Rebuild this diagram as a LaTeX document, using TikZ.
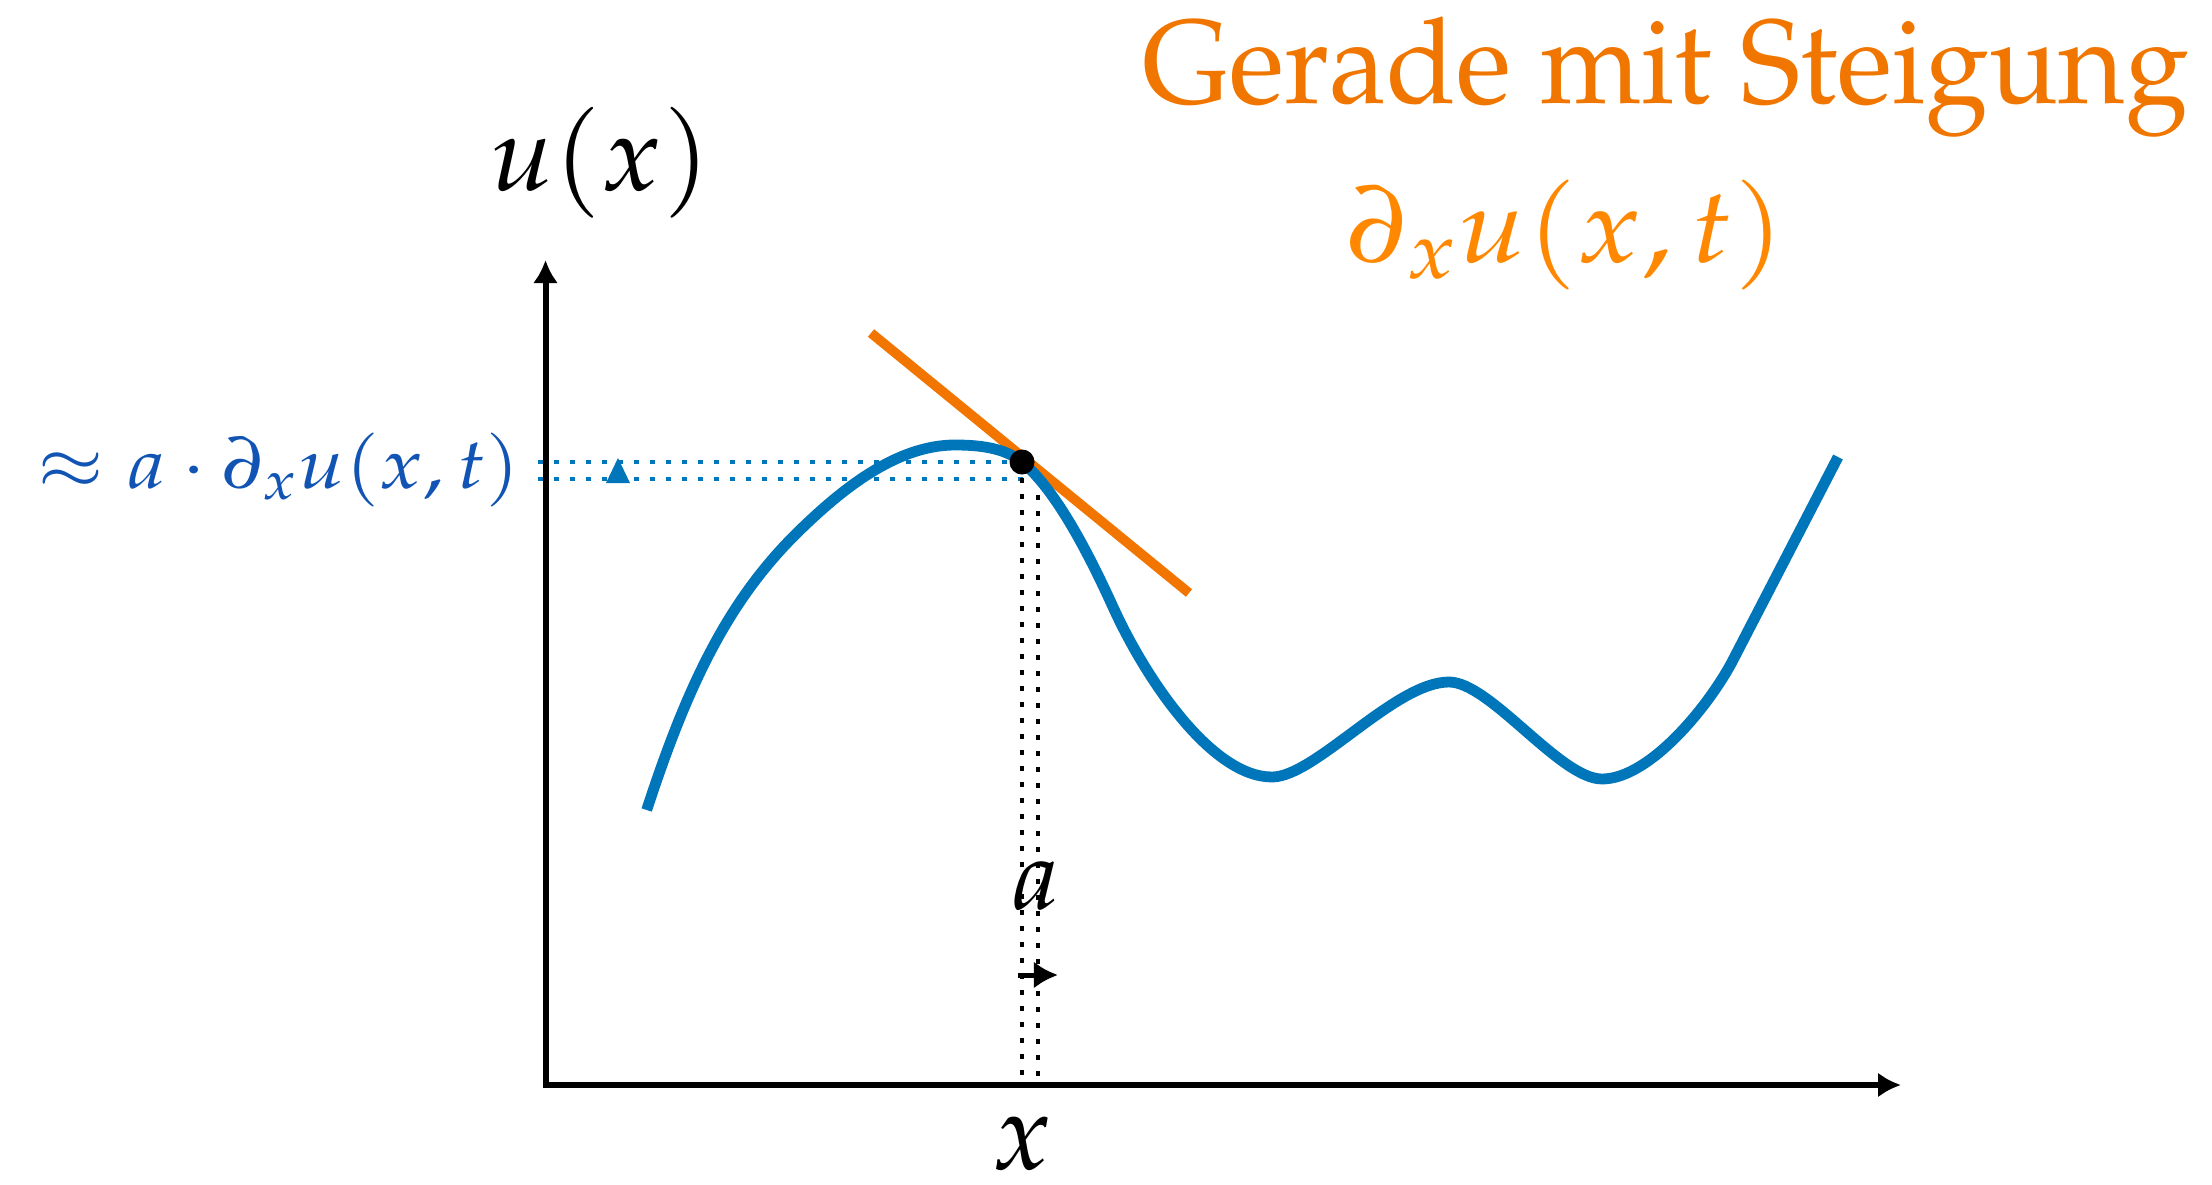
\documentclass[tikz,border=0pt]{standalone}
\usepackage[T1]{fontenc}
\usepackage{mathpazo}
\usepackage{graphicx}
\usetikzlibrary{arrows.meta}
\definecolor{cblue}{RGB}{0,118,186}
\definecolor{tblue}{RGB}{17,84,180}
\definecolor{corange}{RGB}{242,117,0}
\definecolor{torange}{RGB}{240,118,0}
\definecolor{forange}{RGB}{255,136,0}
\tikzset{
  curveline/.style={cblue,line width=0.108cm},
  tangentline/.style={corange,line width=0.097cm},
  bdots/.style={cblue,line width=0.046cm,dash pattern=on 0.046cm off 0.114cm},
  kdots/.style={black,line width=0.046cm,dash pattern=on 0.046cm off 0.114cm},
  lbl/.style={inner sep=0pt,outer sep=0pt}
}
\begin{document}
\begin{tikzpicture}[x=0.01cm,y=-0.01cm]
\useasboundingbox (0,0) rectangle (2212,1185);
% coordinates
\coordinate (O) at (545.5,1085);
\coordinate (ytip) at (545.5,260);
\coordinate (xtip) at (1901,1085);
\coordinate (P) at (1022,462);
\coordinate (Q) at (1038,479);
\coordinate (bu0) at (538,462);
\coordinate (bl0) at (538,479);
\coordinate (Pb) at (1022,1085);
\coordinate (Qb) at (1038,1085);
\coordinate (ta) at (871,333);
\coordinate (tb) at (1189,593);
\coordinate (aa) at (1018,975);
\coordinate (ab) at (1058,975);
% dotted guide lines
\draw[bdots] (bu0) -- (P);
\draw[bdots] (bl0) -- (Q);
\draw[kdots] (P) -- (Pb);
\draw[kdots] (Q) -- (Qb);
% blue shift triangle
\fill[cblue] (606,483) -- (630,483) -- (618,458) -- cycle;
% axes
\draw[line width=0.06cm,{Latex[length=0.23cm,width=0.25cm]}-{Latex[length=0.23cm,width=0.25cm]}] (ytip) -- (O) -- (xtip);
% tangent
\draw[tangentline] (ta) -- (tb);
% curve
\draw[curveline] (646.7,810)
  .. controls (690,677) and (731.8,596.1) .. (800,530)
  .. controls (839.5,491.7) and (895,445) .. (955,445)
  .. controls (978,445) and (1004.2,447.4) .. (P)
  .. controls (1056.8,490.5) and (1090.2,557) .. (1113,607)
  .. controls (1146.1,679.8) and (1212,777) .. (1272,777)
  .. controls (1315,777) and (1395,682) .. (1449,682)
  .. controls (1490,682) and (1560,779) .. (1602,779)
  .. controls (1650,779) and (1710,704.4) .. (1733,660)
  -- (1838,457);
% point
\fill[black] (P) circle[radius=0.125cm];
% shift arrow
\draw[line width=0.05cm,-{Latex[length=0.24cm,width=0.27cm]}] (aa) -- (ab);
% labels
\node[lbl,anchor=south,text=torange] (title) at (1665.5,137) {\resizebox*{10.46cm}{1.2cm}{\fontsize{35}{42}\selectfont Gerade mit Steigung}};
\node[lbl,anchor=south,text=forange] (slope) at (1565.5,290) {\resizebox*{4.37cm}{1.10cm}{\fontsize{35}{42}\selectfont $\partial_x u(x,t)$}};
\node[lbl,anchor=south,text=tblue] (shift) at (279,507) {\resizebox*{4.82cm}{0.74cm}{\fontsize{23}{28}\selectfont $\approx a\cdot\partial_x u(x,t)$}};
\node[lbl,anchor=south] (ulab) at (600,218) {\resizebox*{2.2cm}{1.11cm}{\fontsize{35}{42}\selectfont $u(x)$}};
\node[lbl,anchor=south] (alab) at (1036,910) {\resizebox{0.48cm}{!}{\fontsize{27}{32}\selectfont $a$}};
\node[lbl] (xlab) at (1022,1144) {\resizebox{0.6cm}{!}{\fontsize{32}{38}\selectfont $x$}};
\end{tikzpicture}
\end{document}
